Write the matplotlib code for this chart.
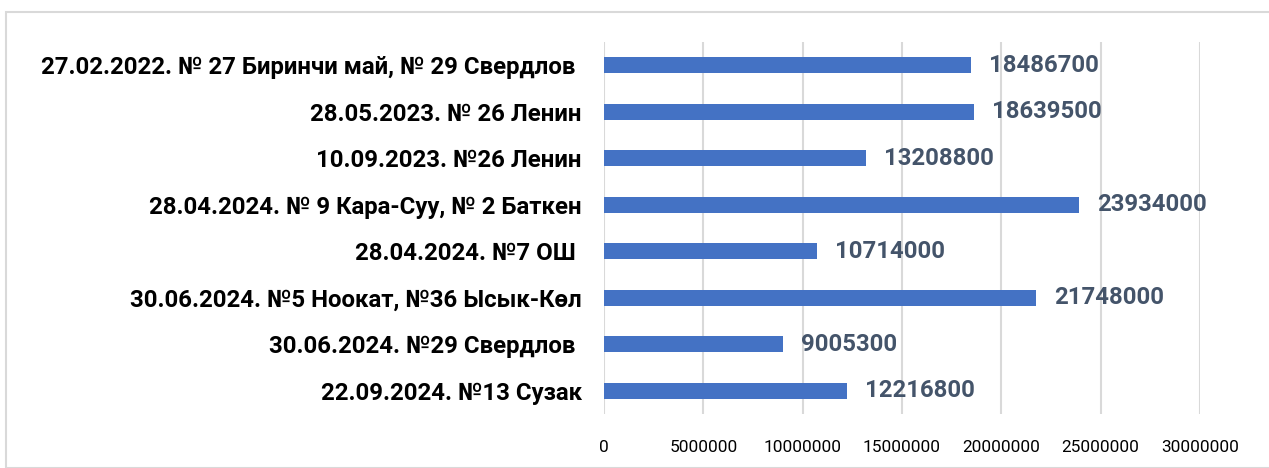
import matplotlib
matplotlib.use("Agg")
import matplotlib.pyplot as plt
from matplotlib.patches import Rectangle

categories = [
    "27.02.2022. № 27 Биринчи май, № 29 Свердлов ",
    "28.05.2023. № 26 Ленин",
    "10.09.2023. №26 Ленин",
    "28.04.2024. № 9 Кара-Суу, № 2 Баткен",
    "28.04.2024. №7 ОШ ",
    "30.06.2024. №5 Ноокат, №36 Ысык-Көл",
    "30.06.2024. №29 Свердлов ",
    "22.09.2024. №13 Сузак",
]
values = [18486700, 18639500, 13208800, 23934000, 10714000, 21748000, 9005300, 12216800]
xticks = [0, 5000000, 10000000, 15000000, 20000000, 25000000, 30000000]

plt.rcParams['font.family'] = ["Roboto", 'DejaVu Sans']

W, H = 1269, 468
fig = plt.figure(figsize=(W / 100, H / 100), dpi=100)
ax = fig.add_axes([604 / W, 1 - 414 / H, (1200 - 604) / W, (414 - 42) / H])

y = list(range(len(categories)))[::-1]
ax.barh(y, values, height=0.35, color="#4472C4", zorder=3)
for yi, v in zip(y, values):
    ax.annotate(str(v), (v, yi), xytext=(18, 0), textcoords="offset pixels",
                va="center", ha="left", fontsize=17.2, fontweight="bold", color="#44546A")

ax.set_xlim(0, 30000000)
ax.set_ylim(-0.5, len(categories) - 0.5)
ax.set_xticks(xticks)
ax.set_xticklabels([str(t) for t in xticks], fontsize=12.4)
ax.set_yticks(y)
ax.set_yticklabels(categories, fontsize=17.3, fontweight="bold")
ax.tick_params(axis="both", length=0)
ax.tick_params(axis="x", pad=19)
ax.tick_params(axis="y", pad=16)
ax.grid(axis="x", color="#D9D9D9", linewidth=1.5, zorder=0)
for s in ax.spines.values():
    s.set_visible(False)

fig.patches.append(Rectangle((6 / W, 0), 1.2, 1 - 12 / H, transform=fig.transFigure,
                             fill=False, edgecolor="#D9D9D9", linewidth=1.5))

fig.savefig("out.png", dpi=100)
